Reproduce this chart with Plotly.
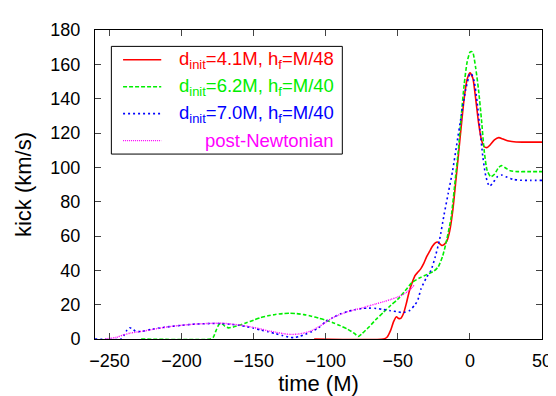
import plotly.graph_objects as go

# ---- data ----
red_t = [-108, -60, -57.5, -55, -53, -51, -49.5, -48, -46, -44, -42, -40, -38, -36, -34, -32, -30, -28, -26, -24,
         -22.5, -21, -19.5, -18, -16, -14, -12, -10, -8, -6, -4, -2, 0, 2, 4, 6, 8, 10, 12, 14, 17, 20, 23, 27,
         32, 40, 50]
red_k = [0, 0, 1, 5, 10, 13, 12, 12, 15, 21, 28, 33, 37, 39, 41, 44, 48, 51, 54, 56,
         56.5, 55.5, 54.5, 55, 57, 63, 74, 90, 107, 124, 140, 151, 155, 152, 140, 126, 116, 112, 111.5, 113, 116,
         117.3, 116.5, 115.3, 114.8, 114.7, 114.7]

green_t = [-228, -180, -178, -176, -174, -172, -170, -167.5, -164, -160, -155, -150, -145, -140, -135, -130, -125,
           -120, -115, -110, -105, -100, -95, -90, -85, -80, -77.5, -75, -70, -65, -60, -55, -50, -45, -40, -35,
           -30, -25, -22, -19, -16, -13, -10, -8, -6, -4, -2, 0, 1, 2, 4, 6, 8, 10, 12, 14.5, 17, 20, 22, 25, 28,
           33, 40, 50]
green_k = [0, 0, 1, 5, 8.5, 9, 7.5, 6.5, 7, 8, 9.5, 11, 12.5, 13.5, 14.3, 14.8, 15,
           14.8, 14.2, 13.3, 12.2, 11, 9.5, 7.8, 5.8, 3.2, 1.5, 3, 7, 11.5, 15.5, 19.5, 23.2, 28, 33, 35.5,
           37.5, 39.5, 42, 48, 58, 71, 94, 110, 130, 148, 161, 167, 167.5, 167, 158, 145, 128, 109, 98, 94.5, 96,
           100, 101, 99.5, 98, 97.5, 97.5, 97.5]

blue_t = [-260, -242, -240, -238, -236, -234, -232, -230, -227, -220, -210, -200, -190, -180, -172, -165, -160,
          -155, -150, -145, -140, -135, -130, -125, -122, -118, -114, -110, -105, -100, -95, -90, -85, -80, -75,
          -70, -65, -60, -55, -50, -46, -42, -38, -36, -34, -30, -27, -24, -21, -18, -15, -12, -9, -6, -3, -1, 0,
          1, 3, 5, 7, 9, 11, 13.5, 16, 19, 22, 25, 30, 35, 42, 50]
blue_k = [0, 0, 2, 5, 6.5, 6, 4.5, 4.3, 4.5, 5.8, 7, 8, 8.7, 9, 9, 8.5, 8,
          7.2, 6.3, 5.2, 4.2, 3.2, 2, 1, 0.8, 1.5, 2.8, 4.2, 6.5, 10, 12.5, 14.5, 16, 17, 17.8,
          18, 17.8, 17.2, 16.5, 15.8, 15.4, 16.5, 20, 23, 29, 36, 40, 48, 58, 72, 85, 98, 114, 130, 145, 152, 154.5,
          154.5, 150, 138, 122, 106, 95, 89, 91, 94.5, 95.5, 94.5, 93, 92.5, 92.4, 92.4]

pn_t = [-253, -245, -240, -235, -230, -225, -220, -210, -200, -190, -180, -172, -165, -160, -155, -150, -145,
        -140, -135, -130, -125, -120, -115, -110, -105, -100, -95, -90, -85, -80, -75, -70, -65, -60, -55, -50,
        -45, -40, -38.5]
pn_k = [0, 1, 2.5, 3.5, 4.2, 4.8, 5.6, 7, 8, 8.7, 9.1, 9.2, 8.7, 8.2, 7.5, 6.7, 5.8,
        4.8, 4, 3.2, 2.7, 2.8, 3.5, 4.8, 7, 9.8, 12.5, 14.3, 15.8, 17, 18, 19.3, 20.5, 21.7, 23, 24.5,
        26.5, 30, 31.7]

x_ticks = [-250, -200, -150, -100, -50, 0, 50]
y_ticks = [0, 20, 40, 60, 80, 100, 120, 140, 160, 180]

labels = ["d<sub>init</sub>=4.1M, h<sub>f</sub>=M/48",
          "d<sub>init</sub>=6.2M, h<sub>f</sub>=M/40",
          "d<sub>init</sub>=7.0M, h<sub>f</sub>=M/40",
          "post-Newtonian"]
colors = ["#ff0000", "#00ee00", "#0000ff", "#ff00ff"]
dashes = ["solid", "4px,2px", "2px,3px", "1px,1px"]
widths = [1.6, 1.6, 1.6, 1.4]

series = [(red_t, red_k), (green_t, green_k), (blue_t, blue_k), (pn_t, pn_k)]

FONT = "Liberation Sans, Arial, Helvetica, sans-serif"

fig = go.Figure()
for (t, k), c, d, w in zip(series, colors, dashes, widths):
    fig.add_trace(go.Scatter(x=t, y=k, mode="lines", showlegend=False,
                             line=dict(color=c, dash=d, width=w, shape="spline", smoothing=0.6)))

# manual key (right-justified text, sample on the left)
row_y = [0.9035, 0.8164, 0.7293, 0.6421]
shapes = [dict(type="rect", xref="paper", yref="paper", x0=0.0366, x1=0.5533, y0=0.5985, y1=0.947,
               line=dict(color="black", width=1), fillcolor="white", layer="below")]
annotations = []
for lab, c, d, w, yy in zip(labels, colors, dashes, widths, row_y):
    shapes.append(dict(type="line", xref="paper", yref="paper", x0=0.0628, x1=0.1482, y0=yy, y1=yy,
                       line=dict(color=c, dash=d, width=w)))
    annotations.append(dict(xref="paper", yref="paper", x=0.5399, y=yy, xanchor="right", yanchor="middle",
                            text=lab, showarrow=False, font=dict(color=c, size=18.5, family=FONT)))

fig.update_layout(
    width=556, height=396,
    margin=dict(l=87, r=12, t=16, b=59),
    paper_bgcolor="white", plot_bgcolor="white",
    font=dict(family=FONT, size=18, color="black"),
    shapes=shapes, annotations=annotations,
)
fig.update_xaxes(range=[-260, 50], tickvals=x_ticks, ticks="inside", ticklen=6, tickcolor="#444",
                 showline=True, linecolor="black", linewidth=1, mirror="allticks", showgrid=False,
                 zeroline=False, title=dict(text="time (M)", standoff=6), ticklabelstandoff=5)
fig.update_yaxes(range=[0, 180], tickvals=y_ticks, ticks="inside", ticklen=6, tickcolor="#444",
                 showline=True, linecolor="black", linewidth=1, mirror="allticks", showgrid=False,
                 zeroline=False, title=dict(text="kick (km/s)", standoff=12), ticklabelstandoff=10)

fig.write_html("out.html")
